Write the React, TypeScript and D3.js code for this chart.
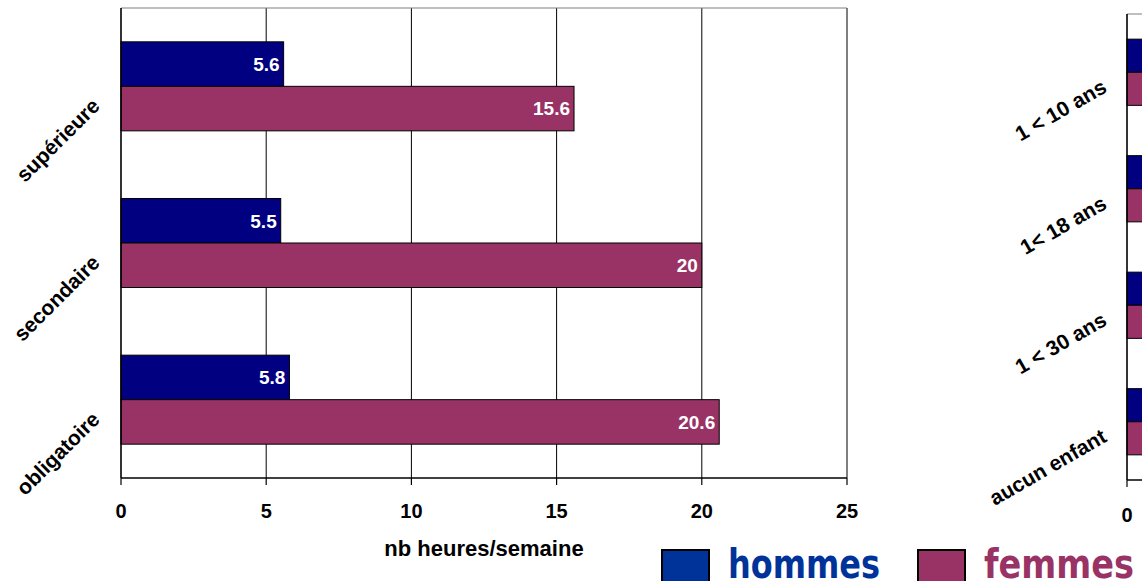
import * as d3 from "d3";
import React, { useEffect, useRef } from "react";

// left panel: niveau de formation
const niveaux = ["supérieure", "secondaire", "obligatoire"];
const hommesNiveau = [5.6, 5.5, 5.8];
const femmesNiveau = [15.6, 20, 20.6];

// right panel: âge des enfants (mostly cut off in the picture, values estimated)
const enfants = ["1 < 10 ans", "1< 18 ans", "1 < 30 ans", "aucun enfant"];
const hommesEnfants = [6.8, 6.3, 6.0, 5.4];
const femmesEnfants = [21.5, 19.8, 18.2, 15.1];

const xTicks = [0, 5, 10, 15, 20, 25];
const series = ["hommes", "femmes"];
const axisTitle = "nb heures/semaine";

const W = 1142,
  H = 581;
const barColors = ["#000080", "#993366"];
const legendColors = ["#003399", "#993366"];
const FONT = "'Liberation Sans', Arial, sans-serif";

const drawPanel = (svg, cfg) => {
  const x = d3.scaleLinear().domain([0, 25]).range([cfg.left, cfg.right]);
  const y = d3.scaleBand().domain(cfg.cats).range([cfg.top, cfg.bottom]);
  const ys = d3
    .scaleBand()
    .domain(series)
    .range([0, y.bandwidth()])
    .paddingOuter(0.76);

  const g = svg.append("g");

  // gridlines
  g.selectAll(".grid")
    .data(xTicks.filter((t) => t > 0 && t < 25))
    .enter()
    .append("line")
    .attr("x1", (d) => x(d))
    .attr("x2", (d) => x(d))
    .attr("y1", cfg.top)
    .attr("y2", cfg.bottom)
    .attr("stroke", "#000")
    .attr("stroke-width", 1);

  // plot border (top + right)
  g.append("line")
    .attr("x1", cfg.left)
    .attr("x2", x(25))
    .attr("y1", cfg.top)
    .attr("y2", cfg.top)
    .attr("stroke", "#808080")
    .attr("stroke-width", 1.2);
  g.append("line")
    .attr("x1", x(25))
    .attr("x2", x(25))
    .attr("y1", cfg.top)
    .attr("y2", cfg.bottom)
    .attr("stroke", "#555")
    .attr("stroke-width", 1.5);

  // bars
  const rows = cfg.cats.map((c, i) => ({
    cat: c,
    vals: [cfg.hommes[i], cfg.femmes[i]],
  }));
  rows.forEach((row) => {
    row.vals.forEach((v, j) => {
      const by = y(row.cat) + ys(series[j]);
      g.append("rect")
        .attr("x", x(0))
        .attr("y", by)
        .attr("width", x(v) - x(0))
        .attr("height", ys.bandwidth())
        .attr("fill", barColors[j])
        .attr("stroke", "#000")
        .attr("stroke-width", 1);
      if (x(v) - 4 < W) {
        g.append("text")
          .attr("x", x(v) - 4)
          .attr("y", by + ys.bandwidth() / 2)
          .attr("dy", "0.36em")
          .attr("text-anchor", "end")
          .attr("fill", "#fff")
          .style("font-family", FONT)
          .style("font-weight", "bold")
          .style("font-size", "19px")
          .text(v);
      }
    });
  });

  // axes
  g.append("line")
    .attr("x1", cfg.left)
    .attr("x2", x(25))
    .attr("y1", cfg.bottom)
    .attr("y2", cfg.bottom)
    .attr("stroke", "#000")
    .attr("stroke-width", 1.6);
  g.append("line")
    .attr("x1", cfg.left)
    .attr("x2", cfg.left)
    .attr("y1", cfg.top)
    .attr("y2", cfg.bottom)
    .attr("stroke", "#000")
    .attr("stroke-width", 1.6);

  g.selectAll(".tick")
    .data(xTicks)
    .enter()
    .append("line")
    .attr("x1", (d) => x(d))
    .attr("x2", (d) => x(d))
    .attr("y1", cfg.bottom)
    .attr("y2", cfg.bottom + 7)
    .attr("stroke", "#000")
    .attr("stroke-width", 1.2);

  g.selectAll(".tickLabel")
    .data(xTicks.filter((t) => x(t) < W - 5))
    .enter()
    .append("text")
    .attr("x", (d) => x(d))
    .attr("y", cfg.tickY)
    .attr("text-anchor", "middle")
    .style("font-family", FONT)
    .style("font-weight", "bold")
    .style("font-size", "20px")
    .text((d) => d);

  // category labels, rotated
  g.selectAll(".cat")
    .data(cfg.cats)
    .enter()
    .append("text")
    .attr(
      "transform",
      (d) =>
        `translate(${cfg.left - cfg.labelDx},${y(d) + y.bandwidth() / 2 + cfg.labelDy}) rotate(${cfg.angle})`
    )
    .attr("text-anchor", "end")
    .style("font-family", FONT)
    .style("font-weight", "bold")
    .style("font-size", "21px")
    .text((d) => d);

  if (cfg.showTitle) {
    g.append("text")
      .attr("x", (x(0) + x(25)) / 2)
      .attr("y", cfg.titleY)
      .attr("text-anchor", "middle")
      .style("font-family", FONT)
      .style("font-weight", "bold")
      .style("font-size", "22px")
      .text(axisTitle);
  }
};

const App = () => {
  const svgRef = useRef(null);

  useEffect(() => {
    const svg = d3
      .select(svgRef.current)
      .html("")
      .attr("width", W)
      .attr("height", H);

    svg.append("rect").attr("width", W).attr("height", H).attr("fill", "#fff");

    drawPanel(svg, {
      left: 121,
      right: 847,
      top: 8,
      bottom: 478,
      cats: niveaux,
      hommes: hommesNiveau,
      femmes: femmesNiveau,
      angle: -45,
      labelDx: 20,
      labelDy: 21,
      tickY: 518,
      showTitle: true,
      titleY: 556,
    });

    drawPanel(svg, {
      left: 1127,
      right: 1853,
      top: 14,
      bottom: 480,
      cats: enfants,
      hommes: hommesEnfants,
      femmes: femmesEnfants,
      angle: -30,
      labelDx: 19,
      labelDy: 19,
      tickY: 522,
      showTitle: false,
    });

    // legend
    const legend = svg
      .selectAll(".legend")
      .data(series)
      .enter()
      .append("g")
      .attr("class", "legend")
      .attr("transform", (d, i) => `translate(${662 + i * 256},550)`);

    legend
      .append("rect")
      .attr("width", 47)
      .attr("height", 42)
      .attr("fill", (d, i) => legendColors[i])
      .attr("stroke", "#000")
      .attr("stroke-width", 2);

    legend
      .append("text")
      .attr("x", 66)
      .attr("y", 28)
      .attr("textLength", (d, i) => [152, 150][i])
      .attr("lengthAdjust", "spacingAndGlyphs")
      .attr("fill", (d, i) => legendColors[i])
      .style("font-family", "'Comic Sans MS', 'DejaVu Sans', sans-serif")
      .style("font-weight", "bold")
      .style("font-size", "40px")
      .text((d) => d);
  }, []);

  return (
    <div style={{ position: "absolute", left: 0, top: 0, width: W, height: H, overflow: "hidden" }}>
      <svg ref={svgRef} style={{ display: "block" }} />
    </div>
  );
};

export default App;
